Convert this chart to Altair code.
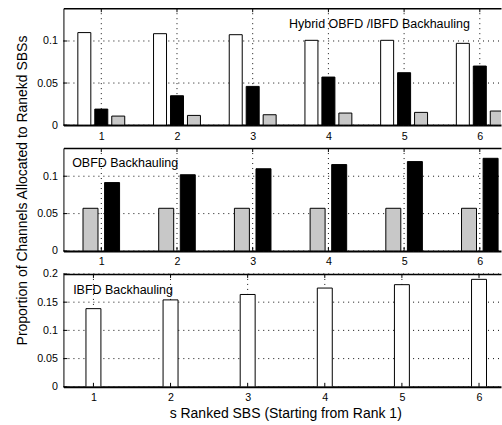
import altair as alt
import pandas as pd

# ---------------- data ----------------
ranks = [1, 2, 3, 4, 5, 6]

hybrid_white = [0.1100, 0.1087, 0.1075, 0.1008, 0.1008, 0.0972]
hybrid_black = [0.0190, 0.0349, 0.0460, 0.0571, 0.0623, 0.0702]
hybrid_gray = [0.0107, 0.0115, 0.0123, 0.0143, 0.0151, 0.0167]

obfd_gray = [0.0571, 0.0571, 0.0571, 0.0571, 0.0571, 0.0571]
obfd_black = [0.0915, 0.1020, 0.1100, 0.1156, 0.1196, 0.1240]

ibfd_white = [0.1385, 0.1540, 0.1636, 0.1750, 0.1810, 0.1904]

panel_labels = ["Hybrid OBFD /IBFD Backhauling", "OBFD Backhauling", "IBFD Backhauling"]
y_title = "Proportion of Channels Allocated to Ranekd SBSs"
x_title = "s Ranked SBS (Starting from Rank 1)"
yticks_small = [0, 0.05, 0.1]
yticks_big = [0, 0.05, 0.1, 0.15, 0.2]

# ---------------- style ----------------
FONT = "Liberation Sans"
SERIES = ["white", "black", "gray"]
FILLS = ["#ffffff", "#000000", "#c8c8c8"]
W = 438
GRID_STYLE = dict(color="#111111", strokeWidth=1, strokeDash=[1, 4])


def bars_df(series, offsets, hw):
    rows = []
    for (name, vals), off in zip(series, offsets):
        for r, v in zip(ranks, vals):
            rows.append({"rank": r, "series": name, "value": v,
                         "x0": r + off - hw, "x1": r + off + hw})
    return pd.DataFrame(rows)


def panel(df, xdom, ydom, yticks, height, label, lx, ly,
          xaxis_title=None, yaxis_title=None):
    xs = alt.Scale(domain=xdom, nice=False, zero=False)
    ys = alt.Scale(domain=ydom, nice=False, zero=False)

    xaxis_kw = dict(values=ranks, format="d", ticks=False, tickSize=0, labelPadding=6,
                    domainWidth=2, domainColor="black", labelFontSize=10.7,
                    labelColor="black", labelFont=FONT, grid=False)
    if xaxis_title:
        xaxis_kw.update(title=xaxis_title, titleX=222, titleY=31, titleAlign="center",
                        titleBaseline="alphabetic", titleFontSize=14, titleFont=FONT,
                        titleFontWeight="normal", titleColor="black")
    else:
        xaxis_kw.update(title=None)

    yaxis_kw = dict(values=yticks, format="~g", ticks=False, tickSize=0, labelPadding=6,
                    domainWidth=1, domainColor="black", labelFontSize=10.7,
                    labelColor="black", labelFont=FONT, grid=False)
    if yaxis_title:
        yaxis_kw.update(title=yaxis_title, titleX=-40.5, titleY=42, titleAngle=270,
                        titleAlign="center", titleBaseline="middle", titleFontSize=14,
                        titleFont=FONT, titleFontWeight="normal", titleColor="black")
    else:
        yaxis_kw.update(title=None)

    tick_df = pd.DataFrame({"rank": ranks})
    ytick_df = pd.DataFrame({"v": yticks})

    vgrid = alt.Chart(tick_df).mark_rule(**GRID_STYLE).encode(
        x=alt.X("rank:Q", scale=xs, axis=None),
        y=alt.value(0), y2=alt.value(height),
    )
    hgrid = alt.Chart(ytick_df).mark_rule(**GRID_STYLE).encode(
        y=alt.Y("v:Q", scale=ys, axis=None),
        x=alt.value(0), x2=alt.value(W),
    )

    bars = alt.Chart(df).mark_rect(stroke="black", strokeWidth=1, clip=True).encode(
        x=alt.X("x0:Q", scale=xs, axis=alt.Axis(**xaxis_kw)),
        x2="x1:Q",
        y=alt.Y("value:Q", scale=ys, axis=alt.Axis(**yaxis_kw)),
        y2=alt.datum(0),
        fill=alt.Fill("series:N", scale=alt.Scale(domain=SERIES, range=FILLS), legend=None),
    )

    lab_df = pd.DataFrame({"tx": [lx], "ty": [ly], "label": [label]})
    text = alt.Chart(lab_df).mark_text(align="left", baseline="alphabetic", font=FONT,
                                       fontSize=12.5, color="black").encode(
        x=alt.X("tx:Q", scale=xs, axis=None),
        y=alt.Y("ty:Q", scale=ys, axis=None),
        text="label:N",
    )

    top_ticks = alt.Chart(tick_df).mark_rule(color="black", strokeWidth=1).encode(
        x=alt.X("rank:Q", scale=xs,
                axis=alt.Axis(orient="top", labels=False, ticks=False, grid=False,
                              domainWidth=1.5, domainColor="black", title=None)),
        y=alt.value(0), y2=alt.value(4),
    )
    bot_ticks = alt.Chart(tick_df).mark_rule(color="black", strokeWidth=1).encode(
        x=alt.X("rank:Q", scale=xs, axis=None),
        y=alt.value(height - 4), y2=alt.value(height),
    )
    left_ticks = alt.Chart(ytick_df).mark_rule(color="black", strokeWidth=1).encode(
        y=alt.Y("v:Q", scale=ys, axis=None),
        x=alt.value(0), x2=alt.value(4),
    )

    return alt.layer(vgrid, hgrid, bars, text, top_ticks, bot_ticks, left_ticks).resolve_axis(
        x="independent", y="independent").properties(width=W, height=height)


top_df = bars_df([("white", hybrid_white), ("black", hybrid_black), ("gray", hybrid_gray)],
                 [-0.224, 0.0, 0.224], 0.0858)
mid_df = bars_df([("gray", obfd_gray), ("black", obfd_black)], [-0.1425, 0.1425], 0.099)
bot_df = bars_df([("white", ibfd_white)], [0.0], 0.097)

top = panel(top_df, [0.5, 6.28], [0, 0.139], yticks_small, 117,
            panel_labels[0], 3.48, 0.1154)
mid = panel(mid_df, [0.5, 6.28], [0, 0.1377], yticks_small, 103,
            panel_labels[1], 0.615, 0.1118, yaxis_title=y_title)
bot = panel(bot_df, [0.611, 6.285], [0, 0.2], yticks_big, 113,
            panel_labels[2], 0.737, 0.1646, xaxis_title=x_title)

chart = alt.vconcat(top, mid, bot, spacing=23, bounds="flush").properties(
    padding={"left": 15.5, "top": 7, "right": 0, "bottom": 0}
).configure_view(strokeWidth=0)

chart.save("out.html", embed_options={"renderer": "svg", "actions": False})
